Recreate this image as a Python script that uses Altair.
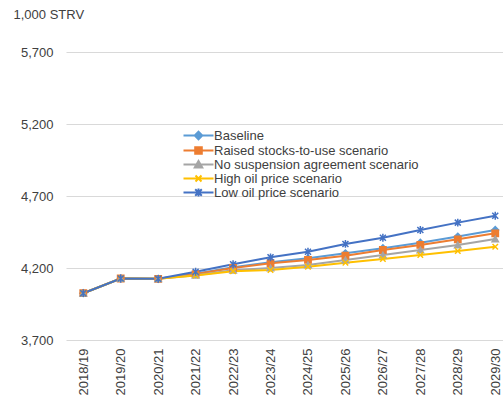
import altair as alt
import pandas as pd

# Marketing years on the x axis
years = ["2018/19", "2019/20", "2020/21", "2021/22", "2022/23", "2023/24",
         "2024/25", "2025/26", "2026/27", "2027/28", "2028/29", "2029/30"]

# Projections, 1,000 short tons raw value
baseline = [4025, 4127, 4125, 4160, 4205, 4240, 4267, 4302, 4337, 4376, 4418, 4464]
raised_stocks = [4025, 4127, 4125, 4158, 4200, 4233, 4256, 4285, 4325, 4360, 4399, 4441]
no_suspension = [4025, 4127, 4125, 4150, 4185, 4200, 4221, 4256, 4290, 4325, 4360, 4401]
high_oil = [4025, 4127, 4125, 4148, 4178, 4186, 4209, 4237, 4262, 4290, 4318, 4348]
low_oil = [4025, 4127, 4125, 4174, 4226, 4274, 4313, 4367, 4410, 4464, 4515, 4563]

series_names = ["Baseline", "Raised stocks-to-use scenario",
                "No suspension agreement scenario", "High oil price scenario",
                "Low oil price scenario"]
series_values = [baseline, raised_stocks, no_suspension, high_oil, low_oil]
series_colors = ["#5B9BD5", "#ED7D31", "#A5A5A5", "#FFC000", "#4472C4"]

# Marker shapes on the lines (size, shape)
marker_styles = [
    (45, "diamond"),
    (40, "square"),
    (40, "triangle-up"),
    (30, "M-1,-1L1,1M-1,1L1,-1"),
    (36, "M-1,-1L1,1M-1,1L1,-1M0,-1.3L0,1.3"),
]
# Legend keys: a short line segment with the marker in its middle
legend_shapes = [
    "M-5,0L5,0M0,-1.25L1.25,0L0,1.25L-1.25,0Z",
    "M-5,0L5,0M-1.1,-1.1L1.1,-1.1L1.1,1.1L-1.1,1.1Z",
    "M-5,0L5,0M0,-1.2L1.25,1L-1.25,1Z",
    "M-5,0L5,0M-1,-1L1,1M-1,1L1,-1",
    "M-5,0L5,0M-1.1,-1.1L1.1,1.1M-1.1,1.1L1.1,-1.1M0,-1.3L0,1.3",
]

rows = []
for name, vals in zip(series_names, series_values):
    for yr, v in zip(years, vals):
        rows.append({"year": yr, "value": v, "series": name})
df = pd.DataFrame(rows)

FONT = "Liberation Sans"
TEXT_COLOR = "#404040"

x_enc = alt.X(
    "year:N",
    sort=years,
    scale=alt.Scale(type="point", padding=0.334, align=0.69),
    axis=alt.Axis(title=None, labelAngle=270, labelPadding=8, ticks=False,
                  domain=False, grid=False, labelFontSize=13,
                  labelColor=TEXT_COLOR, labelFont=FONT),
)
y_enc = alt.Y(
    "value:Q",
    scale=alt.Scale(domain=[3700, 5700], nice=False, zero=False),
    axis=alt.Axis(values=[3700, 4200, 4700, 5200, 5700], format=",.0f",
                  title="1,000 STRV", titleAngle=0, titleAlign="left",
                  titleBaseline="middle", titleX=-53, titleY=-38,
                  titleFontWeight="normal", titleFontSize=13,
                  titleColor=TEXT_COLOR, titleFont=FONT,
                  ticks=False, domain=False, labelPadding=13,
                  labelFontSize=13, labelColor=TEXT_COLOR, labelFont=FONT,
                  grid=True, gridColor="#D9D9D9", gridWidth=1),
)

color_scale = alt.Scale(domain=series_names, range=series_colors)

# Lines first, then markers; each series in its own layer with its own style
line_layers = []
marker_layers = []
for name, col, (sz, shp) in zip(series_names, series_colors, marker_styles):
    base = alt.Chart(df).transform_filter(alt.datum.series == name)
    line_layers.append(
        base.mark_line(strokeWidth=2, stroke=col).encode(x=x_enc, y=y_enc)
    )
    marker_layers.append(
        base.mark_point(
            filled=True, shape=shp, size=sz, fill=col, stroke=col,
            strokeWidth=1.5, opacity=1,
        ).encode(x=x_enc, y=y_enc)
    )

legend_props = dict(
    title=None, orient="none", legendX=126, legendY=77,
    symbolSize=36, symbolStrokeWidth=2, symbolOpacity=1,
    labelOffset=9, labelFontSize=13, labelColor=TEXT_COLOR, labelFont=FONT,
    labelLimit=400, rowPadding=-3.2, padding=0,
)

# Invisible marks that carry the legend
legend_layer = alt.Chart(df[df["year"] == years[0]]).mark_point(
    filled=True, opacity=0, size=36
).encode(
    fill=alt.Fill("series:N", scale=color_scale, legend=alt.Legend(**legend_props)),
    stroke=alt.Stroke("series:N", scale=color_scale, legend=alt.Legend(**legend_props)),
    shape=alt.Shape("series:N", scale=alt.Scale(domain=series_names, range=legend_shapes),
                    legend=alt.Legend(**legend_props)),
)

chart = alt.layer(*line_layers, *marker_layers, legend_layer).properties(
    width=437, height=288,
    autosize=alt.AutoSizeParams(type="none"),
    padding={"left": 66, "top": 52, "right": 0, "bottom": 58},
).configure(background="white").configure_view(stroke=None)

chart.save("out.html", embed_options={"renderer": "svg", "actions": False})
